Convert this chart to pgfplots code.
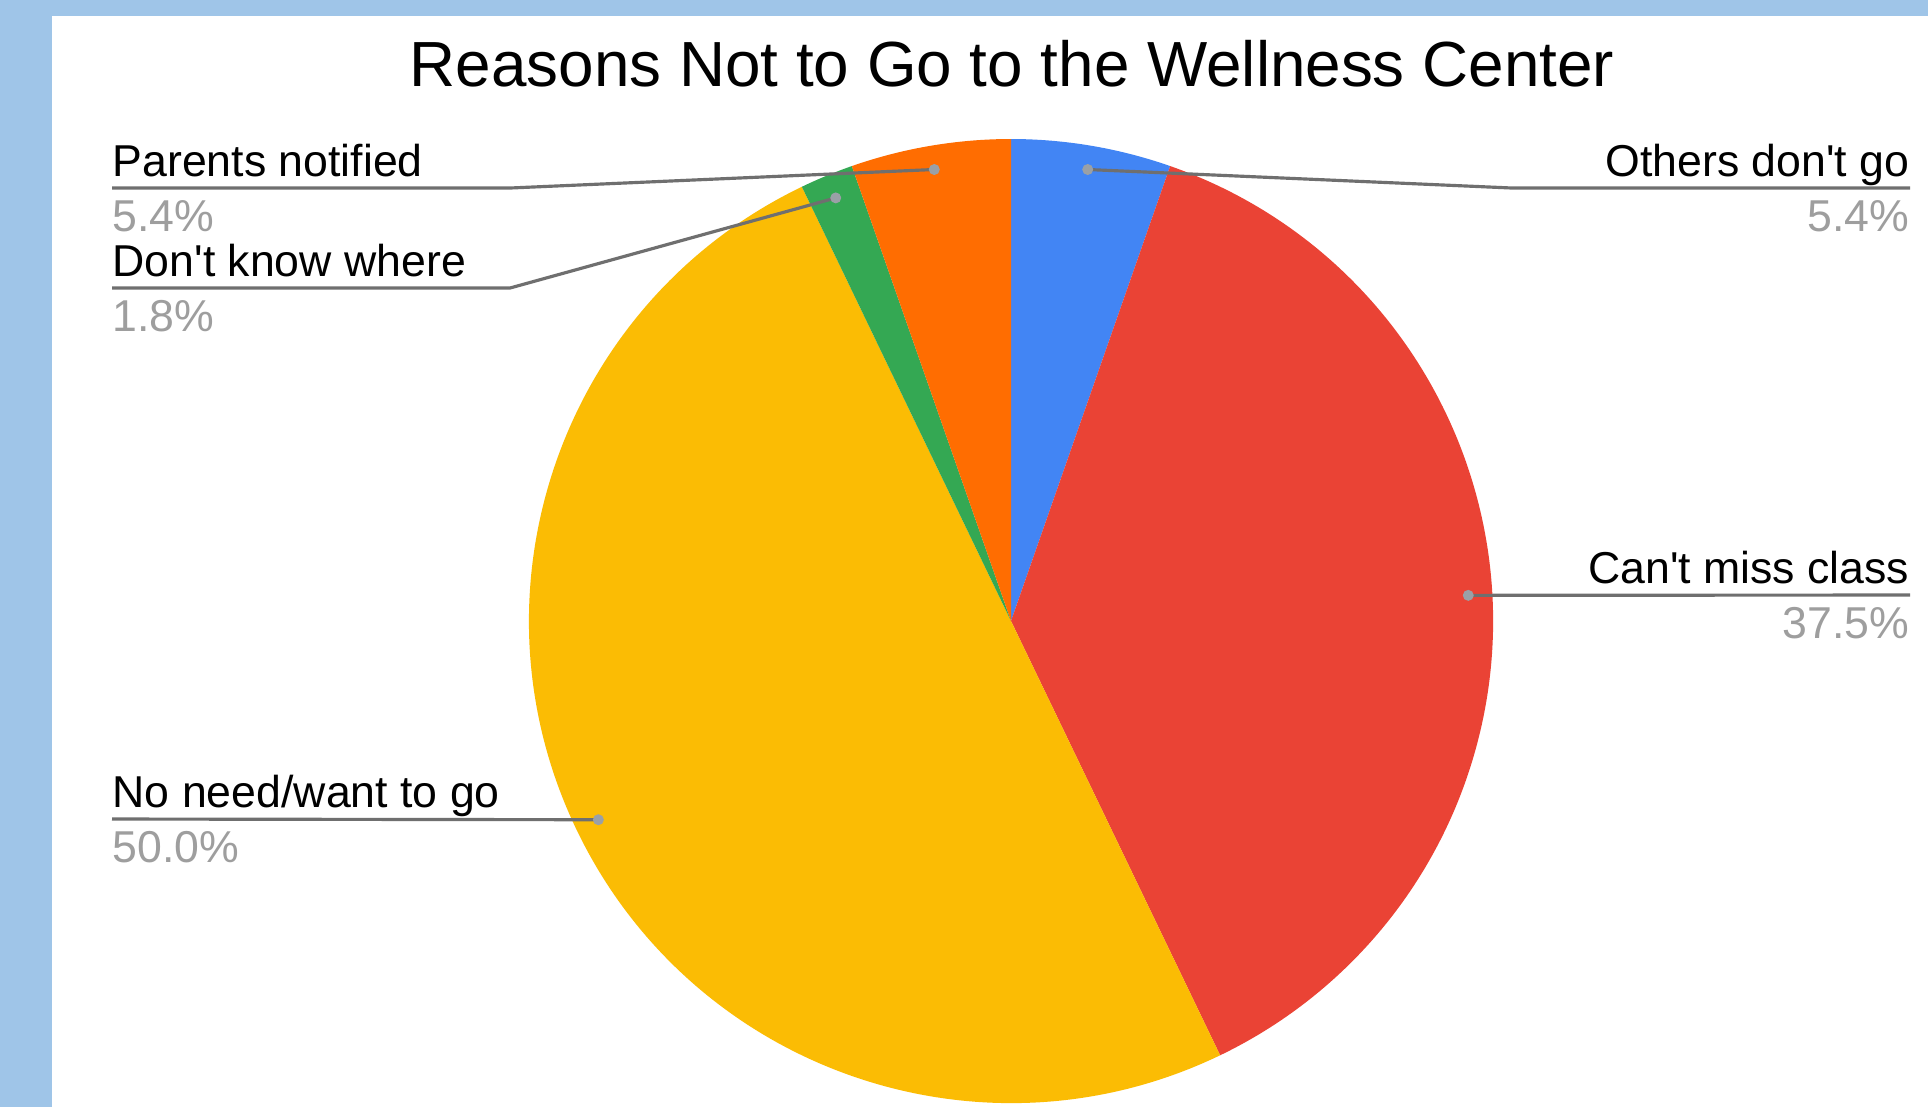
\documentclass[border=0pt]{standalone}
\usepackage{pgfplots}
\pgfplotsset{compat=1.18}
\usepackage{fontspec}
\setmainfont{Liberation Sans}[Ligatures=TeXOff]
\definecolor{bgblue}{HTML}{9FC5E8}
\definecolor{cblue}{HTML}{4285F4}
\definecolor{cred}{HTML}{EA4335}
\definecolor{cyellow}{HTML}{FBBC04}
\definecolor{cgreen}{HTML}{34A853}
\definecolor{corange}{HTML}{FF6D01}
\definecolor{leader}{HTML}{6F6F6F}
\definecolor{dotc}{HTML}{9AA0A6}
\definecolor{pctc}{HTML}{9E9E9E}
% counts per reason (out of 56 responses)
\def\cA{3}  % Others don't go
\def\cB{21} % Can't miss class
\def\cC{28} % No need/want to go
\def\cD{1}  % Don't know where
\def\cE{3}  % Parents notified
\newcommand\labfont{\fontsize{12.7}{15}\selectfont}
\begin{document}
\begin{tikzpicture}
\pgfmathsetmacro\tot{\cA+\cB+\cC+\cD+\cE}
\pgfmathsetmacro\unit{360/\tot}
\pgfmathsetmacro\aA{0}
\pgfmathsetmacro\aB{\unit*\cA}
\pgfmathsetmacro\aC{\unit*(\cA+\cB)}
\pgfmathsetmacro\aD{\unit*(\cA+\cB+\cC)}
\pgfmathsetmacro\aE{\unit*(\cA+\cB+\cC+\cD)}
\pgfmathsetmacro\aF{360}
\begin{axis}[scale only axis, width=192.8mm, height=110.7mm,
  xmin=0, xmax=1928, ymin=0, ymax=1107, y dir=reverse,
  hide axis, clip=false]
\fill[bgblue] (axis cs:0,0) rectangle (axis cs:1928,1107);
\fill[white] (axis cs:52,16) rectangle (axis cs:1928,1107);
\node[anchor=base, font=\fontsize{18.15}{22}\selectfont] at (axis cs:1012,86) {Reasons Not to Go to the Wellness Center};
% wedges (clockwise from top)
\fill[cblue]   (axis cs:1011,621) -- ++({90-\aA}:48.2mm) arc[start angle={90-\aA}, end angle={90-\aB}, radius=48.2mm] -- cycle;
\fill[cred]    (axis cs:1011,621) -- ++({90-\aB}:48.2mm) arc[start angle={90-\aB}, end angle={90-\aC}, radius=48.2mm] -- cycle;
\fill[cyellow] (axis cs:1011,621) -- ++({90-\aC}:48.2mm) arc[start angle={90-\aC}, end angle={90-\aD}, radius=48.2mm] -- cycle;
\fill[cgreen]  (axis cs:1011,621) -- ++({90-\aD}:48.2mm) arc[start angle={90-\aD}, end angle={90-\aE}, radius=48.2mm] -- cycle;
\fill[corange] (axis cs:1011,621) -- ++({90-\aE}:48.2mm) arc[start angle={90-\aE}, end angle={90-\aF}, radius=48.2mm] -- cycle;
% leader lines
\draw[leader, line width=0.9pt] (axis cs:1011,621) ++({90-(\aA+\aB)/2}:45.8mm) -- (axis cs:1512,188) -- (axis cs:1910,188);
\draw[leader, line width=0.9pt] (axis cs:1011,621) ++({90-(\aB+\aC)/2}:45.8mm) -- (axis cs:1910,595);
\draw[leader, line width=0.9pt] (axis cs:1011,621) ++({90-(\aC+\aD)/2}:45.8mm) -- (axis cs:112,819);
\draw[leader, line width=0.9pt] (axis cs:1011,621) ++({90-(\aD+\aE)/2}:45.8mm) -- (axis cs:510,288) -- (axis cs:112,288);
\draw[leader, line width=0.9pt] (axis cs:1011,621) ++({90-(\aE+\aF)/2}:45.8mm) -- (axis cs:510,188) -- (axis cs:112,188);
\fill[dotc] (axis cs:1011,621) ++({90-(\aA+\aB)/2}:45.8mm) circle[radius=0.55mm];
\fill[dotc] (axis cs:1011,621) ++({90-(\aB+\aC)/2}:45.8mm) circle[radius=0.55mm];
\fill[dotc] (axis cs:1011,621) ++({90-(\aC+\aD)/2}:45.8mm) circle[radius=0.55mm];
\fill[dotc] (axis cs:1011,621) ++({90-(\aD+\aE)/2}:45.8mm) circle[radius=0.55mm];
\fill[dotc] (axis cs:1011,621) ++({90-(\aE+\aF)/2}:45.8mm) circle[radius=0.55mm];
% labels
\node[anchor=base east, inner sep=0pt, font=\labfont] at (axis cs:1910,176) {Others don't go};
\node[anchor=base east, inner sep=0pt, font=\labfont, text=pctc] at (axis cs:1910,231) {5.4\%};
\node[anchor=base east, inner sep=0pt, font=\labfont] at (axis cs:1910,583) {Can't miss class};
\node[anchor=base east, inner sep=0pt, font=\labfont, text=pctc] at (axis cs:1910,638) {37.5\%};
\node[anchor=base west, inner sep=0pt, font=\labfont] at (axis cs:112,176) {Parents notified};
\node[anchor=base west, inner sep=0pt, font=\labfont, text=pctc] at (axis cs:112,231) {5.4\%};
\node[anchor=base west, inner sep=0pt, font=\labfont] at (axis cs:112,276) {Don't know where};
\node[anchor=base west, inner sep=0pt, font=\labfont, text=pctc] at (axis cs:112,331) {1.8\%};
\node[anchor=base west, inner sep=0pt, font=\labfont] at (axis cs:112,807) {No need/want to go};
\node[anchor=base west, inner sep=0pt, font=\labfont, text=pctc] at (axis cs:112,862) {50.0\%};
\end{axis}
\pgfresetboundingbox
\path[use as bounding box] (current axis.south west) rectangle (current axis.north east);
\end{tikzpicture}
\end{document}
